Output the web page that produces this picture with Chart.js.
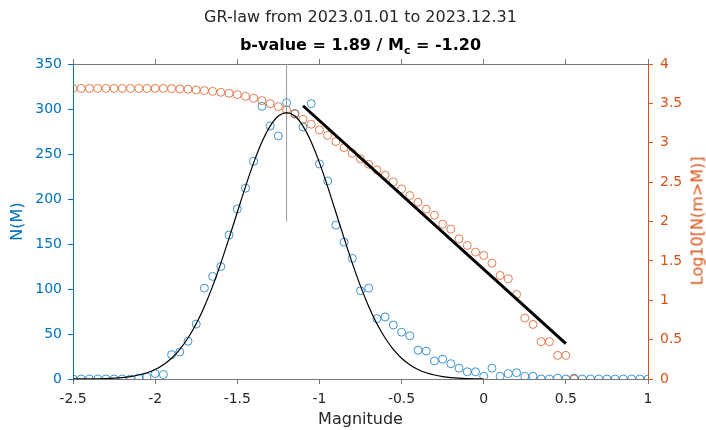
<!DOCTYPE html>
<html>
<head>
<meta charset="utf-8">
<script src="https://cdn.jsdelivr.net/npm/chart.js@4.4.1/dist/chart.umd.min.js"></script>
<style>
  body { margin: 0; background: #fff; }
  #wrap { position: relative; width: 706px; height: 430px; font-family: "DejaVu Sans", sans-serif; }
  .title { position: absolute; left: 73px; width: 575px; text-align: center; font-size: 16px; line-height: 20px; color: #262626; }
  #t1 { top: 7px; }
  #t2 { top: 35px; font-weight: bold; color: #000; }
  #t2 sub { font-size: 11px; vertical-align: -4px; line-height: 0; }
  #rlabel { position: absolute; left: 697px; top: 221px; transform: translate(-50%, -50%) rotate(-90deg);
            font-size: 16px; color: #D95319; white-space: nowrap; }
</style>
</head>
<body>
<div id="wrap">
  <canvas id="chart" width="706" height="430"></canvas>
  <div class="title" id="t1">GR-law from 2023.01.01 to 2023.12.31</div>
  <div class="title" id="t2">b-value = 1.89 / M<sub>c</sub> = -1.20</div>
  <div id="rlabel">Log10[N(m&gt;M)]</div>
</div>
<script>
// magnitude bins
const mags = [-2.5, -2.45, -2.4, -2.35, -2.3, -2.25, -2.2, -2.15, -2.1, -2.05,
  -2.0, -1.95, -1.9, -1.85, -1.8, -1.75, -1.7, -1.65, -1.6, -1.55,
  -1.5, -1.45, -1.4, -1.35, -1.3, -1.25, -1.2, -1.15, -1.1, -1.05,
  -1.0, -0.95, -0.9, -0.85, -0.8, -0.75, -0.7, -0.65, -0.6, -0.55,
  -0.5, -0.45, -0.4, -0.35, -0.3, -0.25, -0.2, -0.15, -0.1, -0.05,
  0, 0.05, 0.1, 0.15, 0.2, 0.25, 0.3, 0.35, 0.4, 0.45,
  0.5, 0.55, 0.6, 0.65, 0.7, 0.75, 0.8, 0.85, 0.9, 0.95, 1.0];

// N(M) per bin
const counts = [0, 0, 0, 0, 0, 0, 0, 0, 1, 2,
  6, 5, 27, 30, 42, 61, 101, 114, 125, 160,
  189, 212, 242, 303, 281, 270, 307, 295, 280, 306,
  239, 220, 171, 152, 134, 98, 101, 67, 69, 60,
  52, 48, 32, 31, 20, 22, 17, 12, 8, 8,
  3, 12, 3, 6, 7, 3, 3, 0, 0, 1,
  0, 1, 0, 0, 0, 0, 0, 0, 0, 0, 0];

// log10 cumulative N(m>M)
const logCum = [3.69, 3.69, 3.69, 3.69, 3.69, 3.69, 3.69, 3.69, 3.69, 3.69,
  3.69, 3.69, 3.687, 3.683, 3.679, 3.67, 3.662, 3.653, 3.641, 3.628,
  3.611, 3.59, 3.565, 3.535, 3.497, 3.459, 3.417, 3.366, 3.298, 3.235,
  3.163, 3.095, 3.015, 2.939, 2.867, 2.795, 2.727, 2.655, 2.588, 2.503,
  2.414, 2.33, 2.245, 2.156, 2.08, 1.966, 1.903, 1.78, 1.696, 1.611,
  1.569, 1.471, 1.315, 1.273, 1.074, 0.774, 0.693, 0.474, 0.474, 0.3,
  0.3, 0, null, null, null, null, null, null, null, null, null];

// normal fit of N(M)
const fitCurve = [0.05, 0.09, 0.16, 0.3, 0.54, 0.95, 1.6, 2.7, 4.4, 6.9,
  10.6, 15.9, 23.1, 32.9, 45.5, 61.3, 80.6, 103.2, 128.8, 156.5,
  185.3, 213.8, 240.4, 263.3, 281, 292.2, 296, 292.2, 281, 263.3,
  240.4, 213.8, 185.3, 156.5, 128.8, 103.2, 80.6, 61.3, 45.5, 32.9,
  23.1, 15.9, 10.6, 6.9, 4.4, 2.7, 1.6, 0.95, 0.54, 0.3,
  0.16, null, null, null, null, null, null, null, null, null,
  null, null, null, null, null, null, null, null, null, null, null];

// GR line: magnitude ends and log10 N
const grMags = [-1.1, 0.5];
const grLog = [3.47, 0.45];

// Mc marker
const mc = -1.2;
const mcRange = [175, 350];

const xy = (xs, ys) => xs.map((x, i) => ({ x: x, y: ys[i] }));
const fmt = v => String(Math.round(v * 10) / 10);
const FONT = "DejaVu Sans";
const AX = "#777";

new Chart(document.getElementById("chart"), {
  type: "line",
  data: {
    datasets: [
      {
        data: xy(grMags, grLog), yAxisID: "y2",
        borderColor: "#000", borderWidth: 3, pointRadius: 0, order: 1
      },
      {
        data: xy(mags, fitCurve), yAxisID: "y",
        borderColor: "#000", borderWidth: 1.2, pointRadius: 0,
        cubicInterpolationMode: "monotone", spanGaps: false, order: 2
      },
      {
        data: xy([mc, mc], mcRange), yAxisID: "y",
        borderColor: "#999", borderWidth: 1, pointRadius: 0, order: 3
      },
      {
        data: xy(mags, logCum), yAxisID: "y2", showLine: false,
        pointRadius: 4, pointBorderWidth: 1, pointBackgroundColor: "transparent",
        pointBorderColor: "rgba(217,83,25,0.75)", order: 4
      },
      {
        data: xy(mags, counts), yAxisID: "y", showLine: false,
        pointRadius: 4, pointBorderWidth: 1, pointBackgroundColor: "transparent",
        pointBorderColor: "rgba(0,114,189,0.75)", order: 5
      }
    ]
  },
  options: {
    responsive: false,
    animation: false,
    layout: { padding: { top: 59, left: 0, right: 0, bottom: 0 } },
    plugins: { legend: { display: false }, tooltip: { enabled: false } },
    scales: {
      x: {
        type: "linear", position: "bottom", min: -2.5, max: 1,
        ticks: { stepSize: 0.5, callback: fmt, color: "#262626", font: { family: FONT, size: 14 }, padding: 7 },
        grid: { drawOnChartArea: false, drawTicks: true, tickLength: 5, color: AX },
        border: { color: AX },
        title: { display: true, text: "Magnitude", color: "#262626", font: { family: FONT, size: 16 }, padding: { top: 0, bottom: 1 } },
        afterFit: s => { s.height = 51; }
      },
      x2: {
        type: "linear", position: "top", min: -2.5, max: 1,
        ticks: { display: false, stepSize: 0.5 },
        grid: { drawOnChartArea: false, drawTicks: true, tickLength: 5, color: AX },
        border: { color: AX },
        afterFit: s => { s.height = 5; }
      },
      y: {
        type: "linear", position: "left", min: 0, max: 350,
        ticks: { stepSize: 50, color: "#0072BD", font: { family: FONT, size: 14 }, padding: 6 },
        grid: { drawOnChartArea: false, drawTicks: true, tickLength: 5, color: "#0072BD" },
        border: { color: "#0072BD" },
        title: { display: true, text: "N(M)", color: "#0072BD", font: { family: FONT, size: 16 }, padding: { top: 8, bottom: 0 } },
        afterFit: s => { s.width = 73; }
      },
      y2: {
        type: "linear", position: "right", min: 0, max: 4,
        ticks: { stepSize: 0.5, callback: fmt, color: "#D95319", font: { family: FONT, size: 14 }, padding: 7 },
        grid: { drawOnChartArea: false, drawTicks: true, tickLength: 5, color: "#D95319" },
        border: { color: "#D95319" },
        afterFit: s => { s.width = 58; }
      }
    }
  }
});
</script>
</body>
</html>
